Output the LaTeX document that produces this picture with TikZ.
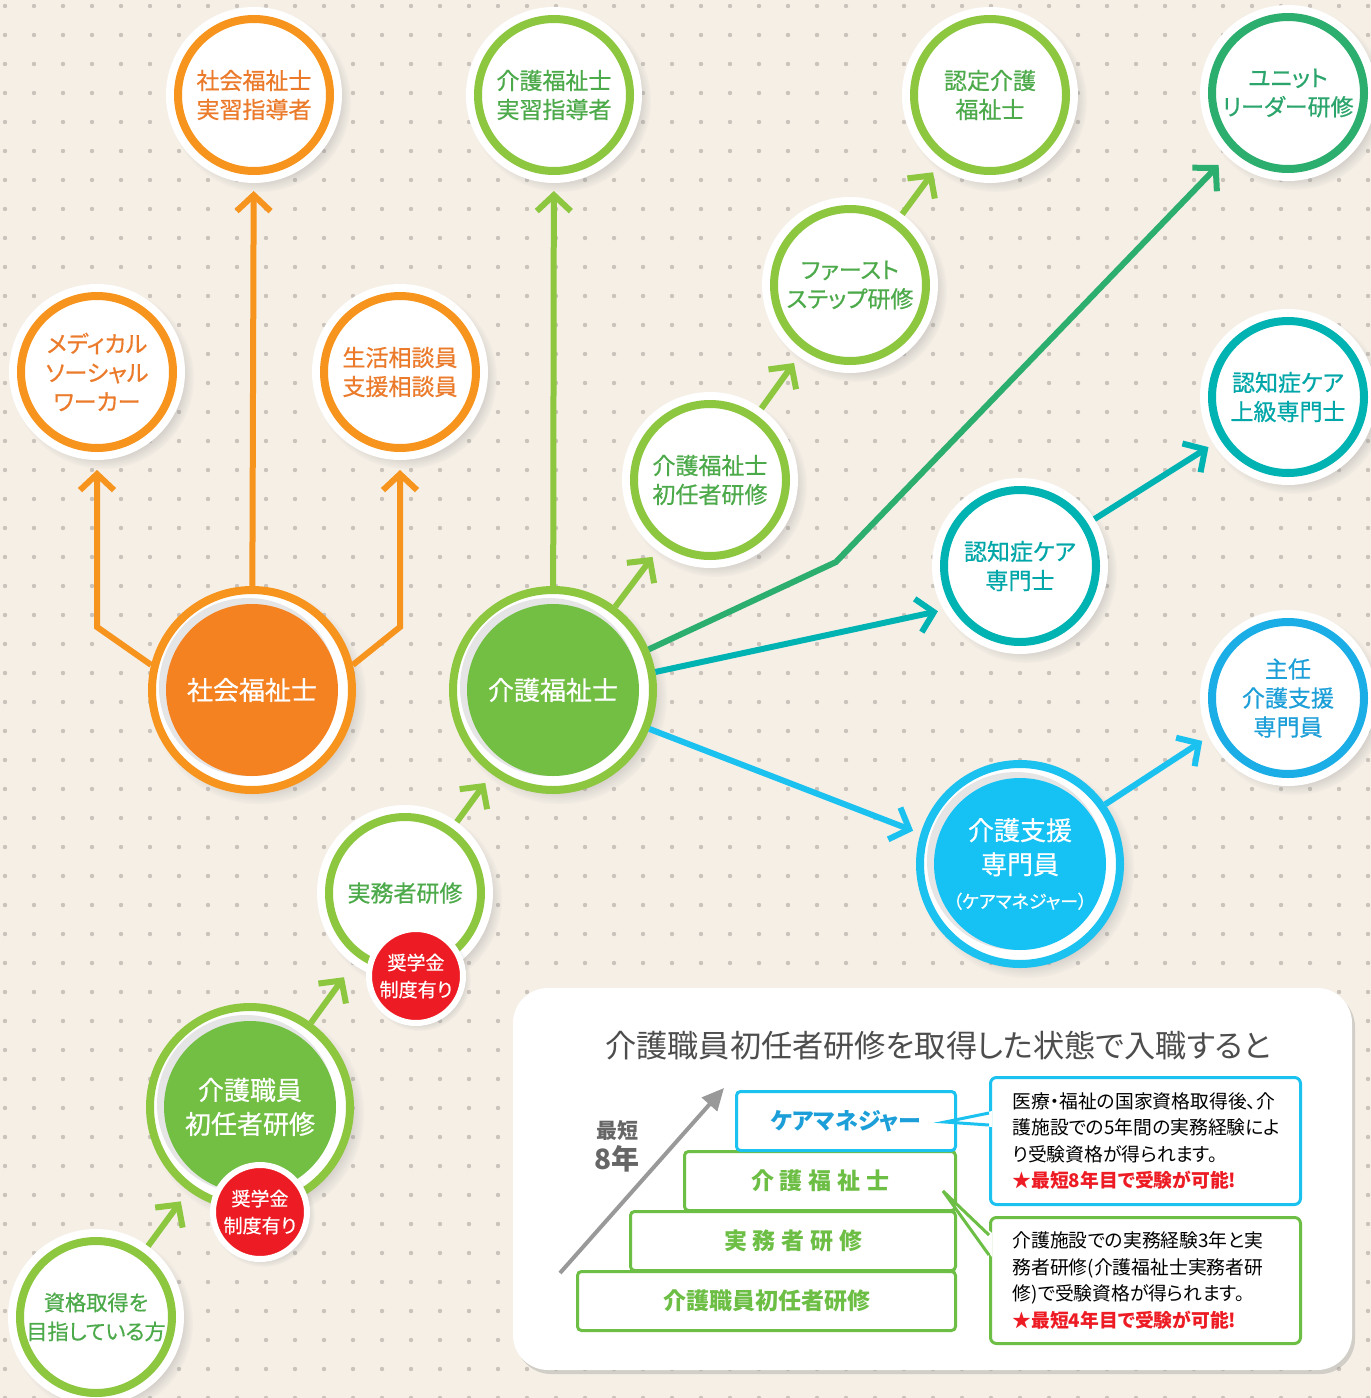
\documentclass[tikz,border=0pt]{standalone}
\usepackage{fontspec}
\setmainfont{Noto Sans CJK JP}[RawFeature=+palt]
\newfontfamily\jpwide{Noto Sans CJK JP}[RawFeature=+palt,LetterSpace=25]
\newfontfamily\jpmed{Noto Sans CJK JP}[RawFeature=+palt,FakeBold=0.6]
\usetikzlibrary{arrows.meta,shadows,calc}
\definecolor{bg}{HTML}{F5EFE6}
\definecolor{dotc}{HTML}{C9C3BC}
\definecolor{orring}{HTML}{F7941D}
\definecolor{orfill}{HTML}{F48220}
\definecolor{ortext}{HTML}{EB7A2A}
\definecolor{grring}{HTML}{8DC63F}
\definecolor{grfill}{HTML}{72BF44}
\definecolor{grtext}{HTML}{4DAA4A}
\definecolor{dgring}{HTML}{2BAE6E}
\definecolor{dgtext}{HTML}{2BA56C}
\definecolor{tlring}{HTML}{00B3B3}
\definecolor{tltext}{HTML}{00A6A8}
\definecolor{blring}{HTML}{1BAEE6}
\definecolor{bltext}{HTML}{1C9FD8}
\definecolor{cyring}{HTML}{1BC1EF}
\definecolor{cyfill}{HTML}{16C2F3}
\definecolor{badgered}{HTML}{ED1C24}
\definecolor{steptext}{HTML}{6DBE45}
\definecolor{titletext}{HTML}{4D4D4D}
\begin{document}
\begin{tikzpicture}[x=0.5pt,y=-0.5pt]
\tikzstyle{every node}+=[inner sep=0pt]
\tikzstyle{ring}=[circle, minimum size=76pt, line width=4pt, fill=white, outer sep=6pt, align=center, font=\jpmed\fontsize{11.5}{14.5}\selectfont, circular drop shadow={shadow xshift=2.5pt, shadow yshift=-2.5pt, shadow scale=1.2, opacity=.3}, preaction={draw=white, line width=12pt}]
\tikzset{big/.style={circle, minimum size=100pt, line width=4pt, fill=white, align=center, text=white, font=\jpmed\fontsize{13}{17}\selectfont, circular drop shadow={shadow xshift=3pt, shadow yshift=-3pt, shadow scale=1.08, opacity=.3}, path picture={\fill[black!10] ([shift={(-2pt,1.5pt)}]path picture bounding box.center) circle (44.5pt); \fill[#1] (path picture bounding box.center) circle (43pt);}}}
\tikzstyle{badge}=[circle, fill=badgered, draw=white, line width=3pt, minimum size=47pt, text=white, align=center, font=\jpmed\fontsize{9.5}{13.5}\selectfont, circular drop shadow={shadow xshift=1.5pt, shadow yshift=-1.5pt, shadow scale=1.1, opacity=.25}]
\tikzstyle{arr}=[line width=3pt, -{Straight Barb[length=8pt,width=17pt]}]
\tikzstyle{stepbox}=[draw=steptext, line width=1.5pt, fill=white, rounded corners=2pt, minimum height=29.5pt, anchor=north east, text=steptext, font={\fontsize{11.5}{14}\selectfont\bfseries}]
\tikzstyle{callbox}=[draw, line width=1.5pt, fill=white, rounded corners=3pt, minimum width=155pt, minimum height=63.5pt, anchor=north west, inner xsep=11pt, text width=133pt, align=left, font=\fontsize{9.4}{13.25}\selectfont]
\fill[bg] (0,0) rectangle (1371,1398);
\useasboundingbox (0,0) rectangle (1371,1398);
\foreach \i in {0,...,47} \foreach \j in {0,...,48} \fill[dotc] (5+29*\i,6+29*\j) circle (1.1pt);
\node[ring, draw=orring, text=ortext] (sj) at (254,95) {社会福祉士\\実習指導者};
\node[ring, draw=orring, text=ortext] (ms) at (97,372) {メディカル\\ソーシャル\\ワーカー};
\node[ring, draw=orring, text=ortext] (sd) at (400,372) {生活相談員\\支援相談員};
\node[ring, draw=grring, text=grtext] (kj) at (554,95) {介護福祉士\\実習指導者};
\node[ring, draw=grring, text=grtext] (nt) at (990,95) {認定介護\\福祉士};
\node[ring, draw=dgring, text=dgtext] (un) at (1288,93) {ユニット\\リーダー研修};
\node[ring, draw=grring, text=grtext] (sh) at (710,480) {介護福祉士\\初任者研修};
\node[ring, draw=grring, text=grtext] (fs) at (850,285) {ファースト\\ステップ研修};
\node[ring, draw=tlring, text=tltext] (du) at (1288,397) {認知症ケア\\上級専門士};
\node[ring, draw=tlring, text=tltext] (dc) at (1020,566) {認知症ケア\\専門士};
\node[ring, draw=blring, text=bltext] (sn) at (1288,698) {主任\\介護支援\\専門員};
\node[ring, draw=grring, text=grtext] (sm) at (405,893) {実務者研修};
\node[ring, draw=grring, text=grtext, font=\jpmed\fontsize{10.6}{14.5}\selectfont] (sk) at (96,1317) {資格取得を\\目指している方};
\node[big=orfill, draw=orring] (sw) at (252,690) {社会福祉士};
\node[big=grfill, draw=grring] (kf) at (553,690) {介護福祉士};
\node[big=grfill, draw=grring] (ks) at (250,1107) {介護職員\\初任者研修};
\node[big=cyfill, draw=cyring] (cm) at (1020,864) {介護支援\\専門員\\{\fontsize{9}{11}\selectfont （ケアマネジャー）}};
\node[badge] (b1) at (416,976) {奨学金\\制度有り};
\node[badge] (b2) at (260,1212) {奨学金\\制度有り};
\coordinate (sk1) at (97,627);
\coordinate (sk2) at (400,627);
\coordinate (bend) at (836,562);
\draw[arr, orring, shorten >=4pt] (sw) -- (sj);
\draw[arr, orring, shorten >=5pt] (sw.166) -- (sk1) -- (ms);
\draw[arr, orring, shorten >=5pt] (sw.14) -- (sk2) -- (sd);
\draw[arr, grring, shorten >=4pt] (kf) -- (kj);
\draw[arr, grring, shorten >=4pt] (kf) -- (sh);
\draw[arr, grring, shorten >=4pt] (sh) -- (fs);
\draw[arr, grring, shorten >=4pt] (fs) -- (nt);
\draw[arr, grring, shorten >=5.5pt] (sm) -- (kf);
\draw[arr, grring, shorten >=8pt] (ks) -- (sm);
\draw[arr, grring, shorten >=6.5pt] (sk) -- (ks);
\draw[arr, dgring, shorten >=6pt] (kf.23) -- (bend) -- (un);
\draw[arr, tlring, shorten >=3pt] (kf.10) -- (dc.210);
\draw[arr, tlring, shorten >=3pt] (dc) -- (du);
\draw[arr, cyring, shorten >=4pt] (kf.-22) -- (cm.163);
\draw[arr, cyring, shorten >=4pt] (cm.35) -- (sn.206);
\fill[white, rounded corners=17.5pt, drop shadow={shadow xshift=1.5pt, shadow yshift=-2pt, opacity=.3}] (513,988) rectangle (1352,1370);
\node[font=\fontsize{15.6}{18}\selectfont, text=titletext] (title) at (938,1046) {介護職員初任者研修を取得した状態で入職すると};
\node[stepbox, minimum width=189pt] (s1) at (957,1270) {介護職員初任者研修};
\node[stepbox, minimum width=162.5pt, font={\jpwide\fontsize{11.5}{14}\selectfont\bfseries}] (s2) at (957,1210) {実務者研修};
\node[stepbox, minimum width=135.5pt, font={\jpwide\fontsize{11.5}{14}\selectfont\bfseries}] (s3) at (957,1150) {介護福祉士};
\node[stepbox, minimum width=109.5pt, draw=cyring, text=bltext] (s4) at (957,1090) {ケアマネジャー};
\coordinate (g0) at (560,1273);
\coordinate (g1) at (724,1088);
\draw[line width=2pt, black!40, -{Triangle[length=11pt,width=10pt]}] (g0) -- (g1);
\node[font=\fontsize{10.5}{12}\selectfont\bfseries, text=black!60] (short) at (617,1131) {最短};
\node[font=\fontsize{14}{16}\selectfont\bfseries, text=black!60] (eight) at (617,1159) {8年};
\node[callbox, draw=cyring] (c1) at (989,1076) {医療・福祉の国家資格取得後、介\\護施設での5年間の実務経験によ\\り受験資格が得られます。\\{\color{badgered}\bfseries ★最短8年目で受験が可能!}};
\node[callbox, draw=steptext, minimum height=63pt] (c2) at (989,1216) {介護施設での実務経験3年と実\\務者研修(介護福祉士実務者研\\修)で受験資格が得られます。\\{\color{badgered}\bfseries ★最短4年目で受験が可能!}};
\fill[white] ($(s4.east)+(-12,1)$) -- ($(c1.north west)+(3,35)$) -- ($(c1.north west)+(3,51)$) -- cycle;
\draw[cyring, line width=1.5pt] ($(c1.north west)+(0,37)$) -- ($(s4.east)+(-12,1)$) -- ($(c1.north west)+(0,49)$);
\fill[white] ($(s3.south east)+(-14,-21)$) -- ($(c2.north west)+(3,17)$) -- ($(c2.north west)+(3,41)$) -- cycle;
\draw[steptext, line width=1.5pt] ($(c2.north west)+(0,19)$) -- ($(s3.south east)+(-14,-21)$) -- ($(c2.north west)+(0,39)$);
\end{tikzpicture}
\end{document}
